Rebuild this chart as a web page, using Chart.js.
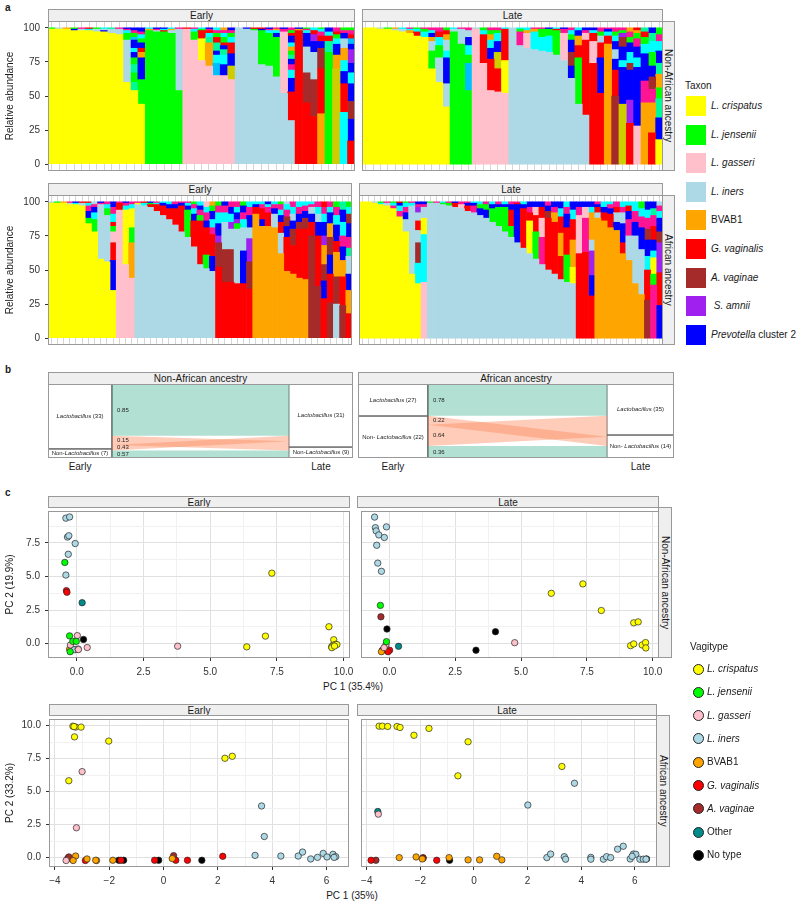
<!DOCTYPE html>
<html><head><meta charset="utf-8">
<script src="https://cdn.jsdelivr.net/npm/chart.js@4.4.1/dist/chart.umd.min.js"></script>
<style>
body{margin:0;background:#fff;font-family:"Liberation Sans",Arial,sans-serif;color:#1a1a1a}
#fig{position:relative;width:800px;height:906px;overflow:hidden;background:#fff}
canvas{position:absolute}
.strip{position:absolute;box-sizing:border-box;background:#efefef;border:1px solid #999;font-size:10px;text-align:center;line-height:11px;color:#1a1a1a;white-space:nowrap;overflow:hidden}
.strip.v{writing-mode:vertical-rl}
.t{position:absolute;font-size:10px;line-height:12px;white-space:nowrap;color:#1a1a1a}
.key{position:absolute;width:20px;height:20px}
.dot{position:absolute;width:11px;height:11px;border-radius:50%;box-sizing:border-box;border:1px solid #222}
</style></head>
<body><div id="fig"></div>
<script>
// ---------------- DATA ----------------
// Panel a: relative abundance per sample, segments bottom->top ("<taxon code><percent>")
const naEarlyBars = ["Y99 G1","Y99 I1","Y99 O1","Y98 V1 G1","Y98 I1 M1","Y98 C1 R1","Y97 I2 G1","Y97 V1 I1 C1","Y96 I3 T1","Y95 I4 M1",
"Y60 I31 G5 C2 M1 V1","Y54 T6 G7 T6 G5 V4 C3 V6 D2 G3 M2 V2","Y44 G18 V16 O4 R3 V4 G3 C3 M2 V3",
"G98 O1 C1","G97 I1 M1 V1","G97 R1 C1 V1","G96 I2 O1 C1","G54 I45 M1",
"P99 R1","P91 G6 C2 M1","P76 Y16 R6 G1 C1","P72 O17 T4 C3 R2 M1 V1","P65 D9 C6 V3 T6 R4 G3 M2 C2","P65 V8 C7 T4 V3 R2 G4 C3 M2 O2","P62 K10 V9 R8 C4 G3 M2 V2",
"I100","I99 V1","I98 G1 R1","I73 G25 V1 R1","I72 G24 C2 M1 V1","I64 G29 V3 C2 O1 M1","I52 P45 M2 V1",
"I32 R21 V10 C6 M4 V4 T3 G3 O3 C3 V5 R2 G2 M2",
"R98 O1 V1","R45 B22 I19 V10 C2 M1 G1","R35 B27 I20 V8 S5 R3 C2","O37 R33 B15 V5 R4 M3 C2 G1","G82 T8 R4 C3 V3","K70 O10 V8 C4 G3 R2 M3","C38 R21 V9 C8 O9 I7 V4 M2 G2","R17 V16 B13 V13 C8 V7 S10 V4 D4 R3 M3 G2"];
const naLateBars = ["Y100","Y100","Y99 I1","Y99 G1","Y98 I1 O1","Y97 I2 C1","Y96 O2 C1 M1","Y94 R3 C2 G1","Y93 C4 G2 M1",
"Y70 G13 I7 O3 V3 C2 M2","Y60 I18 G9 C6 R4 M3","Y42 I17 V19 C5 I8 O4 R3 G2",
"G97 I2 C1","G88 I11 M1","G54 D20 G6 C7 V6 I5 M2",
"P99 I1","P74 R21 C3 G2","P54 R23 V8 C6 O4 G3 M2","P53 R17 K12 V8 C6 G2 M2","P52 Y24 R23 C1",
"I100","I87 M10 G2 C1","I85 P11 O2 C2","I84 C13 O2 M1","I83 C10 G6 M1","I82 C12 G5 V1","I80 G18 R1 C1","I76 P20 M3 V1","I63 V9 B10 V9 G4 C3 M2","I44 G34 R9 O7 V4 C2","I36 R55 P5 M2 V2",
"R74 P16 R6 C2 V2","R52 V26 R11 I5 G3 M3","O88 R6 C3 V2 M1","B50 R19 V8 I7 V6 C4 G3 M3","K44 V27 C5 V10 B7 S3 G2 M2","R30 S17 V22 B5 C8 V7 G4 M4 O3","P28 V43 C7 V8 M6 G4 O2 R2","O45 M16 V20 C7 G5 R4 T3","R23 O22 M10 B9 V8 G10 C8 T6 V4","Y18 V16 T14 G8 O10 T8 V9 C7 M5 G5"];
const afEarlyBars = ["Y99 I1","Y99 G1","Y99 O1","Y98 I1 M1","Y98 C1 V1","Y97 I2 R1",
"Y84 G4 V5 M4 C2 R1","Y78 G9 C5 V4 M2 I2","Y58 I40 M1 V1","Y56 I34 G5 C3 M2","Y35 V22 R13 P8 G4 R3 C6 M5 V4",
"P94 R5 M1","P54 Y40 C3 M2 V1","P44 O26 G11 Y14 C3 M2",
"I98 Y1 M1","I97 C2 R1","I96 R2 G1 V1","I93 R5 C1 M1","I90 R7 V2 C1","I87 R8 V3 C2","I83 R12 V3 M2","I78 R19 V2 M1","I74 G20 V3 C2 M1","I67 R19 V5 C4 M3 G2","I54 R32 G4 M4 V3 C3","I51 G10 R20 V5 M6 C4 P4","I49 V11 R16 M5 C6 V6 G4 O3",
"R52 B18 S5 V9 C8 M5 G3","R41 B24 I20 C7 M5 V3","R41 B24 I15 S5 C6 V5 M4","R40 I40 G4 S3 V5 C4 M4","R40 V24 I17 C6 M5 V5 G3","R36 B20 S17 I8 V9 M6 C4",
"O91 R5 V2 C2","O82 V5 R8 M3 C2","O82 R10 M4 C2 V2","O81 I10 V4 M3 C2","O62 I15 R8 V5 C4 M4 G2","O49 R25 V8 B7 M5 C4 I2","O47 R21 B12 V6 I5 C5 M4","O44 R36 B5 V6 M5 C4","O43 R37 B8 V5 M4 C3",
"B75 R10 V6 I5 M2 C2","B38 R37 V10 I6 C5 M4","R29 V13 B12 O14 S7 V10 C6 M5 R4","B26 R21 V14 B13 O10 V8 C4 M4","I25 B20 O18 R8 V12 C7 M6 G4","B24 R21 O12 V10 M8 C10 V9 T6","R18 O17 V12 I13 T6 M8 V10 B7 C5 G4"];
const afLateBars = ["Y100","Y100","Y99 I1","Y98 C1 G1","Y97 I2 M1","Y95 M2 C2 G1","Y89 M4 C4 V2 R1","Y78 I9 V5 M4 C3 G1","Y47 I50 C2 M1","Y40 C15 B15 I9 R7 I6 S4 M2 V2",
"P41 C35 Y12 I8 M2 V2",
"I99 G1","I99 M1","I98 G1 C1","I97 G2 M1","I96 R3 V1","I95 P3 M2","I93 R4 V2 M1","I92 M5 V2 C1","I90 V5 G3 C2","I88 V6 G4 M2","I85 G10 V3 C2","I82 G14 V2 M2","I78 G18 V2 C2","I74 G8 R12 V4 M2","I70 V28 R1 M1","I66 R29 V3 C2","I62 Y24 R6 M4 V4","I58 G20 R12 P6 V4","I54 M20 P14 R8 V4","I50 R38 B5 V4 M3","I47 R38 O7 M4 V4","I43 R17 O17 R12 C6 V5","I41 G20 R20 V10 M5 C4","I40 Y12 O20 R15 C7 V6",
"R62 P28 M6 V4","R63 M25 P8 V4","R31 V15 S18 I8 O20 C4 V4",
"O88 I4 R4 V2 M2","O86 R6 V4 C4","O81 R10 V4 M3 C2","O79 V6 I7 R4 M4","O62 R8 V14 I8 M4 C4","O57 I18 M12 V6 R4 C3","O40 I35 V10 M8 C7","O32 I33 V16 M8 C6 G5",
"B28 R22 C10 V12 B8 M8 C6 V6","M39 G8 Y12 C5 V8 R10 M8 T5 V5","V24 R24 S22 B8 V10 C5 M4 I3"];
const abundanceTicks = [0, 25, 50, 75, 100];
const taxonLegend = [["Y","<i>L. crispatus</i>"],["G","<i>L. jensenii</i>"],["P","<i>L. gasseri</i>"],["I","<i>L. iners</i>"],["O","BVAB1"],["R","<i>G. vaginalis</i>"],["B","<i>A. vaginae</i>"],["S","&nbsp;<i>S. amnii</i>"],["V","<i>Prevotella</i> cluster 2"]];

// Panel b: stratum counts and transitions [from, to, n]  (0 = Lactobacillus, 1 = Non-Lactobacillus)
const naEarlyCounts = [33, 7];
const naLateCounts = [31, 9];
const naFlows = [[0,0,28],[0,1,5],[1,0,3],[1,1,4]];
const naFlowLabels = ["0.85","0.15","0.43","0.57"];
const naBoxSplit = [35.1, 34.1];
const afEarlyCounts = [27, 22];
const afLateCounts = [35, 14];
const afFlows = [[0,0,21],[0,1,6],[1,0,14],[1,1,8]];
const afFlowLabels = ["0.78","0.22","0.64","0.36"];
const afBoxSplit = [21.2, 33.8];

// Panel c: PCA points [PC1, PC2, vagitype]
const naEarlyPts = [[-0.41,9.35,'I'],[-0.27,9.44,'I'],[-0.35,7.94,'I'],[-0.30,8.04,'I'],[-0.06,7.46,'I'],[-0.32,6.66,'I'],[-0.41,5.11,'I'],[-0.10,-0.45,'I'],[0.05,-0.40,'I'],
[-0.45,6.05,'G'],[-0.27,0.58,'G'],[-0.15,0.17,'G'],[-0.02,0.17,'G'],[-0.25,-0.60,'G'],
[-0.39,3.95,'R'],[-0.37,3.83,'R'],[0.20,3.05,'T'],[-0.05,-0.44,'T'],
[0.02,0.60,'P'],[-0.24,-0.10,'P'],[0.39,-0.29,'P'],[3.78,-0.19,'P'],[0.06,-0.44,'P'],
[0.25,0.31,'K'],[-0.20,-0.44,'K'],[-0.27,-0.41,'O'],
[7.31,5.25,'Y'],[7.07,0.56,'Y'],[6.37,-0.24,'Y'],[9.45,1.26,'Y'],[9.63,0.29,'Y'],[9.60,-0.12,'Y'],[9.55,-0.24,'Y'],[9.70,-0.05,'Y'],[9.75,-0.07,'Y'],[9.56,-0.30,'Y'],[9.66,-0.18,'Y']];
const naLatePts = [[-0.56,9.43,'I'],[-0.53,8.64,'I'],[-0.50,8.40,'I'],[-0.11,8.70,'I'],[-0.40,8.10,'I'],[-0.19,7.91,'I'],[-0.48,7.33,'I'],[-0.44,6.00,'I'],[-0.30,5.39,'I'],
[-0.34,2.85,'G'],[-0.11,0.15,'G'],[-0.32,2.00,'B'],
[-0.09,1.09,'K'],[-0.26,-0.49,'K'],[4.03,0.89,'K'],[3.29,-0.49,'K'],
[0.01,-0.49,'R'],[-0.05,-0.60,'R'],[-0.13,-0.08,'P'],[4.76,0.07,'P'],[-0.20,-0.30,'P'],
[0.35,-0.20,'T'],[-0.30,-0.60,'O'],
[6.15,3.75,'Y'],[7.35,4.45,'Y'],[8.05,2.47,'Y'],[9.28,1.55,'Y'],[9.45,1.62,'Y'],[9.16,-0.15,'Y'],[9.28,-0.02,'Y'],[9.60,-0.10,'Y'],[9.73,0.08,'Y'],[9.74,-0.32,'Y']];
const afEarlyPts = [[-3.34,9.95,'Y'],[-3.24,9.88,'Y'],[-3.04,9.88,'Y'],[-3.28,9.14,'Y'],[-2.02,8.82,'Y'],[-3.49,5.82,'Y'],[2.26,7.52,'Y'],[2.53,7.67,'Y'],[-3.30,9.92,'Y'],
[-3.00,6.51,'P'],[-3.21,2.26,'P'],[-3.59,-0.22,'P'],
[3.61,3.91,'I'],[3.71,1.60,'I'],[3.37,0.17,'I'],[4.32,0.12,'I'],[4.96,0.12,'I'],[5.12,0.42,'I'],[5.42,-0.10,'I'],[5.67,0.02,'I'],[5.88,0.32,'I'],[6.02,0.05,'I'],[6.24,0.25,'I'],[6.34,0.07,'I'],[6.28,0.02,'I'],
[-3.53,-0.07,'K'],[-1.65,-0.20,'K'],[-1.47,-0.20,'K'],[-0.18,-0.20,'K'],[1.41,-0.20,'K'],
[-2.88,-0.22,'R'],[-1.57,-0.20,'R'],[-0.33,-0.20,'R'],[0.45,-0.20,'R'],[0.88,-0.20,'R'],[2.18,0.10,'R'],
[-3.49,0.05,'B'],[0.37,0.15,'B'],
[-3.24,0.12,'O'],[-3.33,-0.22,'O'],[-2.82,-0.10,'O'],[-2.47,-0.22,'O'],[-1.87,-0.20,'O'],[0.32,-0.07,'O'],[-2.50,-0.20,'O']];
const afLatePts = [[-3.54,9.95,'Y'],[-3.42,9.95,'Y'],[-3.22,9.93,'Y'],[-2.87,9.93,'Y'],[-2.76,9.85,'Y'],[-2.24,9.26,'Y'],[-1.68,9.78,'Y'],[-0.22,8.77,'Y'],[-0.60,6.19,'Y'],[3.28,6.90,'Y'],
[3.75,5.63,'I'],[2.01,3.98,'I'],[2.72,0.00,'I'],[2.86,0.27,'I'],[3.37,0.07,'I'],[3.42,-0.12,'I'],[4.36,0.02,'I'],[4.36,-0.12,'I'],[4.83,-0.12,'I'],[4.95,0.07,'I'],[5.10,0.00,'I'],[5.36,0.64,'I'],[5.57,0.86,'I'],[5.83,-0.10,'I'],[5.95,0.27,'I'],[6.04,0.25,'I'],[6.19,-0.12,'I'],[6.32,-0.12,'I'],[6.42,-0.12,'I'],[5.90,0.10,'I'],
[-2.79,0.00,'O'],[-2.16,0.05,'O'],[-1.93,-0.10,'O'],[-0.93,0.00,'O'],[-0.22,-0.17,'O'],[0.21,-0.17,'O'],[0.85,0.10,'O'],[1.04,-0.17,'O'],
[-1.90,-0.05,'R'],[-1.39,-0.20,'R'],[-3.84,-0.20,'R'],[-3.66,-0.20,'B'],[-1.90,0.00,'B'],
[-0.91,-0.20,'K'],[6.44,-0.10,'K'],[-3.59,3.49,'T'],[-3.57,3.29,'P']];
const vagiLegend = [["Y","<i>L. crispatus</i>"],["G","<i>L. jensenii</i>"],["P","<i>L. gasseri</i>"],["I","<i>L. iners</i>"],["O","BVAB1"],["R","<i>G. vaginalis</i>"],["B","<i>A. vaginae</i>"],["T","Other"],["K","No type"]];
const pcTopXTicks = [0, 2.5, 5, 7.5, 10], pcTopXLabels = ["0.0","2.5","5.0","7.5","10.0"], pcTopXMinor = [1.25, 3.75, 6.25, 8.75];
const pcTopYTicks = [0, 2.5, 5, 7.5], pcTopYLabels = ["0.0","2.5","5.0","7.5"], pcTopYMinor = [1.25, 3.75, 6.25, 8.75];
const pcBotXTicks = [-4, -2, 0, 2, 4, 6], pcBotXLabels = ["\u22124","\u22122","0","2","4","6"], pcBotXMinor = [-3, -1, 1, 3, 5];
const pcBotYTicks = [0, 2.5, 5, 7.5, 10], pcBotYLabels = ["0.0","2.5","5.0","7.5","10.0"], pcBotYMinor = [1.25, 3.75, 6.25, 8.75];

// ---------------- STYLE ----------------
const TAXA_COLORS = {Y:'#FFFF00',G:'#00FF00',P:'#FFC0CB',I:'#ADD8E6',O:'#FFA500',R:'#FF0000',B:'#A52A2A',S:'#A020F0',V:'#0000FF',C:'#00FFFF',M:'#FF1493',T:'#00FA9A',K:'#CDCD00',D:'#00BFFF'};
const VAGI_COLORS = {Y:'#FFFF00',G:'#00FF00',P:'#FFC0CB',I:'#ADD8E6',O:'#FFA500',R:'#FF0000',B:'#A52A2A',T:'#008B8B',K:'#000000'};
const FLOW_SAME = 'rgba(102,194,165,0.5)', FLOW_CHANGE = 'rgba(252,141,98,0.45)';
Chart.defaults.font.family = '"Liberation Sans", Arial, sans-serif';
Chart.defaults.font.size = 10;
Chart.defaults.color = '#333';
Chart.defaults.animation = false;

const fig = document.getElementById('fig');
function mkCanvas(l,t,w,h){const c=document.createElement('canvas');c.width=w;c.height=h;c.style.left=l+'px';c.style.top=t+'px';c.style.width=w+'px';c.style.height=h+'px';fig.appendChild(c);return c;}
function strip(text,l,t,w,h,v){const d=document.createElement('div');d.className='strip'+(v?' v':'');d.style.left=l+'px';d.style.top=t+'px';d.style.width=w+'px';d.style.height=h+'px';d.textContent=text;fig.appendChild(d);}
function text(html,x,cy,align,extra){const d=document.createElement('div');d.className='t';d.innerHTML=html;d.style.top=(cy-6)+'px';
  if(align==='center'){d.style.left=(x-100)+'px';d.style.width='200px';d.style.textAlign='center';} else d.style.left=x+'px';
  if(extra) d.style.cssText+=extra; fig.appendChild(d);}
function noPad(a){a.paddingTop=0;a.paddingBottom=0;a.paddingLeft=0;a.paddingRight=0;}

const framePlugin = {id:'frame', afterDraw(chart,args,o){ if(!o||!o.color) return; const a=chart.chartArea,c=chart.ctx; c.save(); c.strokeStyle=o.color; c.lineWidth=1;
  c.strokeRect(Math.round(a.left)+0.5,Math.round(a.top)+0.5,Math.round(a.right-a.left)-1,Math.round(a.bottom-a.top)-1); c.restore(); }};
const baseOpts = () => ({responsive:false, devicePixelRatio:1, animation:false, layout:{padding:0}, plugins:{legend:{display:false}, tooltip:{enabled:false}, frame:{color:'#999'}}});

// ---------------- PANEL a ----------------
function barPanel(bars, l, t, w, h, showY, stripText, side){
  const parsed = bars.map(s => s.trim().split(/\s+/).map(tk => [tk[0], +tk.slice(1)]));
  const layers = Math.max(...parsed.map(p => p.length));
  const datasets = [];
  for (let k=0;k<layers;k++) datasets.push({
    data: parsed.map(p => p[k] ? p[k][1] : null),
    backgroundColor: parsed.map(p => p[k] ? TAXA_COLORS[p[k][0]] : 'rgba(0,0,0,0)'),
    borderWidth:0, barPercentage:1, categoryPercentage:1
  });
  const axW = showY ? 48 : 0;
  const opts = baseOpts();
  opts.scales = {
    x:{stacked:true, ticks:{display:false}, grid:{offset:false, color:'#d6d6d6', drawTicks:false}, border:{display:false}, afterFit:a=>{a.height=0; noPad(a);}},
    y:{stacked:true, min:-5, max:105, display:showY,
       afterBuildTicks:a=>{a.ticks=abundanceTicks.map(v=>({value:v}));},
       afterFit:a=>{a.width=axW; noPad(a);},
       ticks:{color:'#333', padding:5, autoSkip:false},
       grid:{drawOnChartArea:false, drawTicks:true, tickLength:3, color:'#333'},
       border:{display:false},
       title:{display:true, text:'Relative abundance', color:'#1a1a1a', padding:{top:4,bottom:0}}}
  };
  new Chart(mkCanvas(l,t,w,h), {type:'bar', data:{labels:parsed.map((_,i)=>'S'+(i+1)), datasets}, options:opts, plugins:[framePlugin]});
  strip(stripText, l+axW, t-12, w-axW, 13);
  if (side) strip(side, l+w-1, t, 13, h, true);
}
barPanel(naEarlyBars, 0, 21, 355, 150, true, 'Early');
barPanel(naLateBars, 362, 21, 301, 150, false, 'Late', 'Non-African ancestry');
barPanel(afEarlyBars, 0, 195, 352, 150, true, 'Early');
barPanel(afLateBars, 359, 195, 304, 150, false, 'Late', 'African ancestry');
text('<b>a</b>', 5, 8);
text('Taxon', 685, 86);
taxonLegend.forEach((e,i)=>{ const k=document.createElement('div'); k.className='key'; k.style.left='686px'; k.style.top=(96+28.6*i)+'px'; k.style.background=TAXA_COLORS[e[0]]; fig.appendChild(k);
  text(e[1], 711, 106+28.6*i); });

// ---------------- PANEL b ----------------
const alluvialText = {id:'alluvialText', afterDatasetsDraw(chart,args,o){
  const c=chart.ctx, xs=chart.scales.x, ys=chart.scales.y; c.save(); c.fillStyle='#222'; c.textBaseline='middle';
  (o.items||[]).forEach(it=>{
    const fontOf = p => (p[1]?'italic ':'')+'6px "Liberation Sans", Arial, sans-serif';
    let tw=0; it.parts.forEach(p=>{c.font=fontOf(p); tw+=c.measureText(p[0]).width;});
    let x = xs.getPixelForValue(it.x) + (it.align==='center' ? -tw/2 : 5);
    const y = ys.getPixelForValue(it.y);
    it.parts.forEach(p=>{c.font=fontOf(p); c.textAlign='left'; c.fillText(p[0],x,y); x+=c.measureText(p[0]).width;});
  }); c.restore(); }};
function alluvial(l,t,w,h,earlyC,lateC,flows,flowLabels,split,boxL,boxR,title,nonSep){
  const N = earlyC[0]+earlyC[1];
  const xl = boxL, xr = 1-boxR;
  const idx = flows.map((_,i)=>i);
  const leftOrder = idx.slice().sort((a,b)=>flows[a][0]-flows[b][0]||flows[a][1]-flows[b][1]);
  const rightOrder = idx.slice().sort((a,b)=>flows[a][1]-flows[b][1]||flows[a][0]-flows[b][0]);
  const L={}, R={}; let acc=0;
  leftOrder.forEach(i=>{L[i]=[acc,acc+flows[i][2]]; acc+=flows[i][2];}); acc=0;
  rightOrder.forEach(i=>{R[i]=[acc,acc+flows[i][2]]; acc+=flows[i][2];});
  const ds=[], items=[];
  flows.forEach((f,i)=>{
    const col = f[0]===f[1] ? FLOW_SAME : FLOW_CHANGE;
    ds.push({data:[{x:xl,y:L[i][0]},{x:xr,y:R[i][0]}], fill:'+1', backgroundColor:col, borderColor:'rgba(0,0,0,0)', borderWidth:0, pointRadius:0, tension:0});
    ds.push({data:[{x:xl,y:L[i][1]},{x:xr,y:R[i][1]}], fill:false, borderColor:'rgba(0,0,0,0)', borderWidth:0, pointRadius:0, tension:0});
    items.push({x:xl, y:(L[i][0]+L[i][1])/2, align:'left', parts:[[flowLabels[i],false]]});
  });
  const boxes=[[0,xl,0,split[0],0,earlyC[0]],[0,xl,split[0],N,1,earlyC[1]],[xr,1,0,split[1],0,lateC[0]],[xr,1,split[1],N,1,lateC[1]]];
  boxes.forEach(b=>{
    ds.push({data:[{x:b[0],y:b[2]},{x:b[1],y:b[2]},{x:b[1],y:b[3]},{x:b[0],y:b[3]},{x:b[0],y:b[2]}], fill:false, borderColor:'#666', borderWidth:1, pointRadius:0, tension:0, clip:false});
    const parts = b[4]===0 ? [['Lactobacillus',true],[' ('+b[5]+')',false]] : [[nonSep,false],['Lactobacillus',true],[' ('+b[5]+')',false]];
    items.push({x:(b[0]+b[1])/2, y:(b[2]+b[3])/2, align:'center', parts});
  });
  const opts = baseOpts();
  opts.scales = {x:{type:'linear',min:0,max:1,display:false}, y:{type:'linear',min:0,max:N,reverse:true,display:false}};
  opts.plugins.alluvialText = {items};
  new Chart(mkCanvas(l,t,w,h), {type:'line', data:{datasets:ds}, options:opts, plugins:[alluvialText, framePlugin]});
  strip(title, l, t-12, w, 13);
  text('Early', l + w*xl/2, 467, 'center');
  text('Late', l + w*(1 - boxR/2), 467, 'center');
}
alluvial(48, 384, 305, 74, naEarlyCounts, naLateCounts, naFlows, naFlowLabels, naBoxSplit, 0.21, 0.21, 'Non-African ancestry', 'Non-');
alluvial(358, 384, 316, 74, afEarlyCounts, afLateCounts, afFlows, afFlowLabels, afBoxSplit, 0.2215, 0.212, 'African ancestry', 'Non- ');
text('<b>b</b>', 5, 370);

// ---------------- PANEL c ----------------
function pcPanel(pts, l, t, w, h, axW, xr, yr, xt, xlab, xmin, yt, ylab, ymin, yTitle, stripText, side){
  const types = vagiLegend.map(e=>e[0]);
  const datasets = types.map(tp=>({data:pts.filter(p=>p[2]===tp).map(p=>({x:p[0],y:p[1]})), backgroundColor:VAGI_COLORS[tp], borderColor:'#262626', borderWidth:0.7, pointRadius:3.2, pointHoverRadius:3.2}));
  const gridCol = majors => (c => c.tick && majors.includes(c.tick.value) ? '#e0e0e0' : '#f1f1f1');
  const tickCol = majors => (c => c.tick && majors.includes(c.tick.value) ? '#333' : 'rgba(0,0,0,0)');
  const extra = 14;
  const opts = baseOpts();
  opts.layout = {padding:{right:extra}};
  opts.scales = {
    x:{type:'linear', min:xr[0], max:xr[1],
      afterBuildTicks:a=>{a.ticks=xt.concat(xmin).sort((p,q)=>p-q).map(v=>({value:v}));},
      afterFit:a=>{a.height=22; noPad(a);},
      ticks:{autoSkip:false, maxRotation:0, padding:5, color:'#333', callback:v=>{const i=xt.indexOf(v); return i>=0?xlab[i]:'';}},
      grid:{color:gridCol(xt), tickColor:tickCol(xt), tickLength:3}, border:{display:false}},
    y:{type:'linear', min:yr[0], max:yr[1],
      afterBuildTicks:a=>{a.ticks=yt.concat(ymin).sort((p,q)=>p-q).map(v=>({value:v}));},
      afterFit:a=>{a.width=axW; noPad(a);},
      ticks:{display:axW>0, autoSkip:false, padding:5, color:'#333', callback:v=>{const i=yt.indexOf(v); return i>=0?ylab[i]:'';}},
      grid:{color:gridCol(yt), tickColor:tickCol(yt), tickLength:3, drawTicks:axW>0}, border:{display:false},
      title:{display:!!yTitle, text:yTitle||'', color:'#1a1a1a', padding:{top:4,bottom:0}}}
  };
  new Chart(mkCanvas(l,t,w+extra,h), {type:'scatter', data:{datasets}, options:opts, plugins:[framePlugin]});
  strip(stripText, l+axW, t-11, w-axW, 12);
  if (side) strip(side, l+w-1, t, 14, h-22, true);
}
pcPanel(naEarlyPts, 0, 507, 350, 173, 48, [-1.08,10.24], [-1.07,9.89], pcTopXTicks, pcTopXLabels, pcTopXMinor, pcTopYTicks, pcTopYLabels, pcTopYMinor, 'PC 2 (19.9%)', 'Early');
pcPanel(naLatePts, 357, 507, 302, 173, 0, [-1.08,10.24], [-1.07,9.89], pcTopXTicks, pcTopXLabels, pcTopXMinor, pcTopYTicks, pcTopYLabels, pcTopYMinor, null, 'Late', 'Non-African ancestry');
pcPanel(afEarlyPts, 0, 715, 349, 174, 49, [-4.22,6.83], [-0.71,10.5], pcBotXTicks, pcBotXLabels, pcBotXMinor, pcBotYTicks, pcBotYLabels, pcBotYMinor, 'PC 2 (33.2%)', 'Early');
pcPanel(afLatePts, 357, 715, 300, 174, 0, [-4.22,6.83], [-0.71,10.5], pcBotXTicks, pcBotXLabels, pcBotXMinor, pcBotYTicks, pcBotYLabels, pcBotYMinor, null, 'Late', 'African ancestry');
text('PC 1 (35.4%)', 353, 687, 'center');
text('PC 1 (35%)', 352, 896, 'center');
text('<b>c</b>', 5, 493);
text('Vagitype', 690, 647);
vagiLegend.forEach((e,i)=>{ const d=document.createElement('div'); d.className='dot'; d.style.left='692.5px'; d.style.top=(669+23.3*i-5.5)+'px'; d.style.background=VAGI_COLORS[e[0]]; fig.appendChild(d);
  text(e[1], 707, 669+23.3*i); });
</script>
</body></html>
